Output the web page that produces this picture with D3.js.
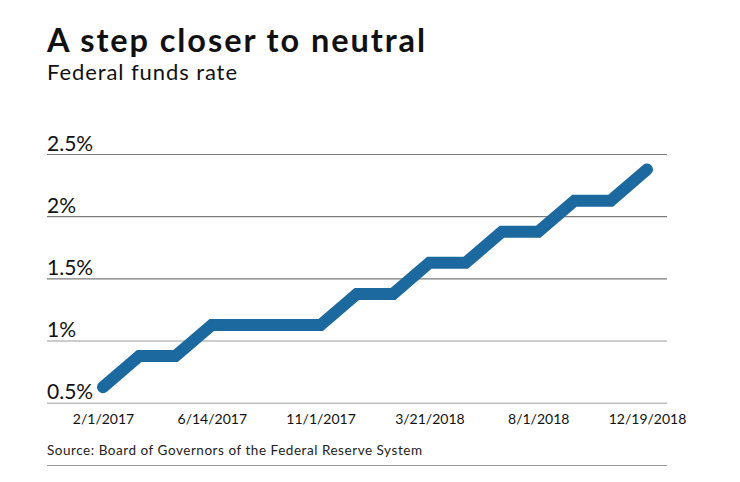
<!DOCTYPE html>
<html>
<head>
<meta charset="utf-8">
<script src="https://cdn.jsdelivr.net/npm/d3@7"></script>
<style>
  html, body { margin: 0; padding: 0; background: #fff; }
  svg { display: block; font-family: Lato, "Open Sans", sans-serif; }
</style>
</head>
<body>
<svg id="chart" width="740" height="482"></svg>
<script>
const meetingDates = ["2/1/2017","3/15/2017","5/3/2017","6/14/2017","7/26/2017","9/20/2017","11/1/2017","12/13/2017",
                      "1/31/2018","3/21/2018","5/2/2018","6/13/2018","8/1/2018","9/26/2018","11/8/2018","12/19/2018"];
const rateValues = [0.625,0.875,0.875,1.125,1.125,1.125,1.125,1.375,
                    1.375,1.625,1.625,1.875,1.875,2.125,2.125,2.375];
const xTickLabels = ["2/1/2017","6/14/2017","11/1/2017","3/21/2018","8/1/2018","12/19/2018"];
const yTickValues = [0.5, 1, 1.5, 2, 2.5];
const yTickLabels = ["0.5%","1%","1.5%","2%","2.5%"];

const svg = d3.select("#chart");
const gridLeft = 47, gridRight = 667;

const x = d3.scalePoint().domain(meetingDates).range([103, 647]);
const y = d3.scaleLinear().domain([0.5, 2.5]).range([402.7, 154]);

// Title
svg.append("text").attr("x", 47).attr("y", 52)
  .attr("font-size", 32.5).attr("font-weight", 700).attr("fill", "#111")
  .attr("textLength", 378).attr("lengthAdjust", "spacing")
  .text("A step closer to neutral");
svg.append("text").attr("x", 47).attr("y", 80)
  .attr("font-size", 22).attr("fill", "#111")
  .attr("textLength", 190).attr("lengthAdjust", "spacing")
  .text("Federal funds rate");

// Gridlines + y labels
const yAxis = d3.axisLeft(y).tickValues(yTickValues)
  .tickSize(0)
  .tickFormat((d, i) => yTickLabels[i]);
const gy = svg.append("g").attr("transform", `translate(${gridLeft},0)`).call(yAxis);
gy.select(".domain").remove();
gy.selectAll(".tick line")
  .attr("x1", 0).attr("x2", gridRight - gridLeft)
  .attr("stroke", d => d <= 1 ? "#bdbdbd" : "#7a7a7a")
  .attr("stroke-width", d => d <= 1 ? 1.5 : 1.2);
gy.selectAll(".tick text")
  .attr("x", 0).attr("dy", 0).attr("y", -4)
  .attr("text-anchor", "start")
  .attr("font-size", 21).attr("font-family", "Lato, sans-serif")
  .attr("fill", "#111");

// X axis labels
const xAxis = d3.axisBottom(x).tickValues(xTickLabels).tickSize(0).tickPadding(0);
const gx = svg.append("g").attr("transform", "translate(0,424)").call(xAxis);
gx.select(".domain").remove();
gx.selectAll(".tick text")
  .attr("dy", 0).attr("y", 0)
  .attr("font-size", 14).attr("font-family", "Lato, sans-serif")
  .attr("fill", "#111");

// Line
const line = d3.line().x((d, i) => x(meetingDates[i])).y(d => y(d));
svg.append("path").datum(rateValues)
  .attr("d", line)
  .attr("fill", "none")
  .attr("stroke", "#1c69a0")
  .attr("stroke-width", 12)
  .attr("stroke-linecap", "round")
  .attr("stroke-linejoin", "miter");

// Source
svg.append("text").attr("x", 47).attr("y", 455)
  .attr("font-size", 13.5).attr("fill", "#222")
  .attr("textLength", 375).attr("lengthAdjust", "spacing")
  .text("Source: Board of Governors of the Federal Reserve System");

// Bottom rule
svg.append("line").attr("x1", gridLeft).attr("x2", gridRight)
  .attr("y1", 465.5).attr("y2", 465.5)
  .attr("stroke", "#9a9a9a").attr("stroke-width", 1.2);
</script>
</body>
</html>
